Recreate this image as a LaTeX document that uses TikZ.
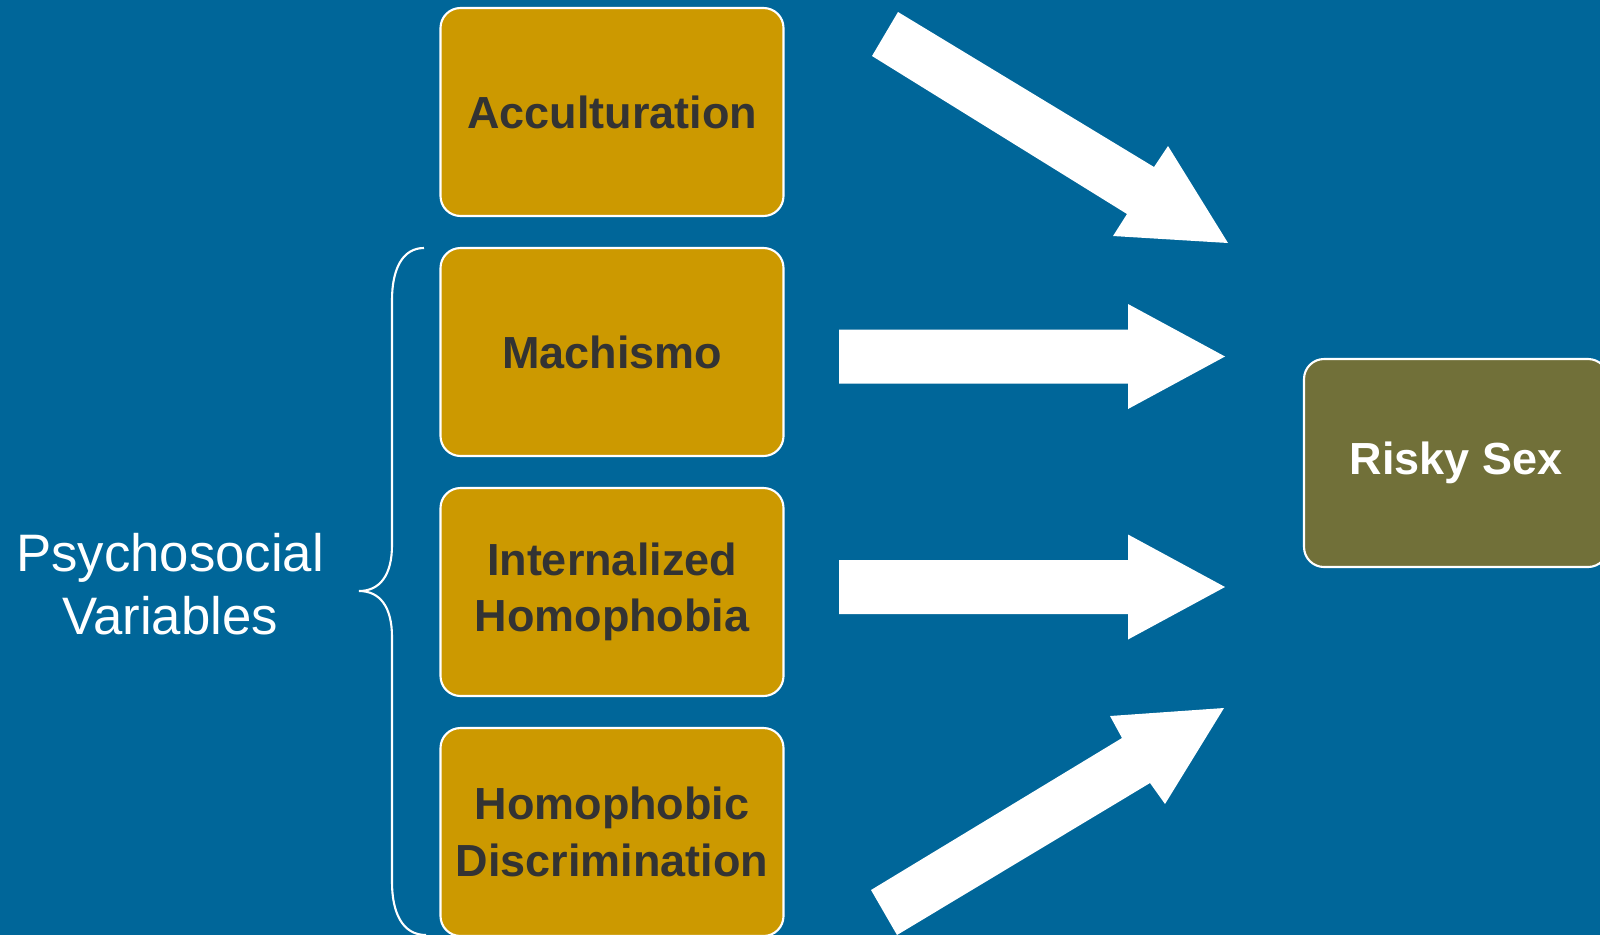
\documentclass[tikz,border=0pt]{standalone}
\usepackage{fontspec}
\setmainfont{Liberation Sans}
\definecolor{bgblue}{RGB}{0,102,153}
\definecolor{boxgold}{RGB}{204,153,0}
\definecolor{boxolive}{RGB}{113,112,57}
\definecolor{txtgray}{RGB}{51,51,51}

\begin{document}
\begin{tikzpicture}[line width=0.6pt,
  var node/.style={rectangle,rounded corners=0.2cm,fill=boxgold,draw=white,minimum width=3.43cm,minimum height=2.08cm,align=center,text=txtgray,font=\fontsize{12.8}{16}\selectfont\bfseries},
  out node/.style={var node,fill=boxolive,text=white,minimum width=3.04cm}]

  \fill[bgblue] (0,0) rectangle (16,-9.35);
  \useasboundingbox (0,0) rectangle (16,-9.35);

  \node[var node] (acc) at (6.12,-1.12) {Acculturation};
  \node[var node] (mach) at (6.12,-3.52) {Machismo};
  \node[var node] (ih) at (6.12,-5.92) {Internalized\\Homophobia};
  \node[var node] (hd) at (6.12,-8.32) {Homophobic\\Discrimination};
  \node[out node] (risk) at (14.56,-4.63) {Risky Sex};

  \node[text=white,align=center,font=\fontsize{15}{18}\selectfont] (psy) at (1.70,-5.84) {Psychosocial\\Variables};

  % brace
  \draw[white] (4.24,-2.48) .. controls (4.02,-2.48) and (3.92,-2.70) .. (3.92,-3.00)
    -- (3.92,-5.45) .. controls (3.92,-5.75) and (3.80,-5.91) .. (3.59,-5.91)
    .. controls (3.80,-5.91) and (3.92,-6.07) .. (3.92,-6.37)
    -- (3.92,-8.82) .. controls (3.92,-9.12) and (4.02,-9.35) .. (4.26,-9.35);

  % block arrows
  \fill[white] (8.98,-0.12) -- (11.54,-1.67) -- (11.68,-1.46) -- (12.28,-2.43) -- (11.13,-2.36) -- (11.27,-2.14) -- (8.72,-0.56) -- cycle;
  \foreach \y in {-3.565,-5.87}
    \fill[white,shift={(0,\y)}] (8.39,0.27) -- (11.28,0.27) -- (11.28,0.525) -- (12.25,0) -- (11.28,-0.525) -- (11.28,-0.27) -- (8.39,-0.27) -- cycle;
  \fill[white] (8.71,-8.90) -- (11.22,-7.38) -- (11.10,-7.16) -- (12.24,-7.08) -- (11.65,-8.04) -- (11.50,-7.83) -- (8.97,-9.35) -- cycle;
\end{tikzpicture}
\end{document}
